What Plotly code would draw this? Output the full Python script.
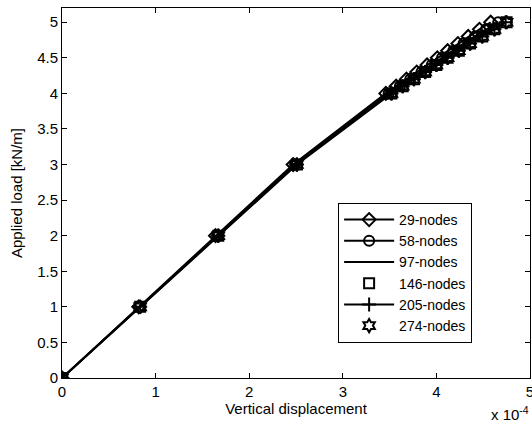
import plotly.graph_objects as go

load = [0, 1, 2, 3, 4, 4.1, 4.2, 4.3, 4.4, 4.5, 4.6, 4.7, 4.8, 4.9, 5.0]

disp_29 = [0, 0.82, 1.64, 2.47, 3.46, 3.57, 3.68, 3.79, 3.90, 4.01, 4.12, 4.23, 4.34, 4.46, 4.58]
disp_58 = [0, 0.83, 1.66, 2.49, 3.49, 3.61, 3.72, 3.84, 3.95, 4.06, 4.18, 4.29, 4.41, 4.53, 4.66]
disp_97 = [0, 0.83, 1.66, 2.50, 3.50, 3.62, 3.73, 3.85, 3.97, 4.08, 4.20, 4.32, 4.44, 4.56, 4.69]
disp_146 = [0, 0.835, 1.67, 2.51, 3.52, 3.64, 3.76, 3.88, 4.00, 4.12, 4.24, 4.36, 4.49, 4.62, 4.75]
disp_205 = [0, 0.835, 1.67, 2.51, 3.52, 3.64, 3.76, 3.88, 4.00, 4.12, 4.24, 4.36, 4.49, 4.62, 4.74]
disp_274 = [0, 0.835, 1.67, 2.51, 3.52, 3.64, 3.76, 3.88, 4.00, 4.12, 4.24, 4.36, 4.49, 4.62, 4.75]

names = ["29-nodes", "58-nodes", "97-nodes", "146-nodes", "205-nodes", "274-nodes"]
x_ticks = [0, 1, 2, 3, 4, 5]
y_ticks = [0, 0.5, 1, 1.5, 2, 2.5, 3, 3.5, 4, 4.5, 5]

series = [
    (disp_29, "lines+markers", "diamond-open"),
    (disp_58, "lines+markers", "circle-open"),
    (disp_97, "lines", None),
    (disp_146, "markers", "square-open"),
    (disp_205, "lines+markers", "cross-thin-open"),
    (disp_274, "markers", "hexagram-open"),
]

fig = go.Figure()
for (xs, mode, sym), nm in zip(series, names):
    kw = dict(x=xs, y=load, mode=mode, name=nm,
              line=dict(color="black", width=2))
    if sym is not None:
        kw["marker"] = dict(symbol=sym, size=10, color="black",
                            line=dict(color="black", width=2))
    fig.add_trace(go.Scatter(**kw))

FS = 15
axis_common = dict(showgrid=False, zeroline=False, showline=True, linecolor="black",
                   linewidth=1, mirror="ticks", ticks="inside", ticklen=5,
                   tickcolor="black", tickfont=dict(size=FS, color="black"),
                   automargin=False, ticklabeloverflow="allow")

fig.update_layout(
    width=532, height=426,
    margin=dict(l=62, r=2, t=8, b=48),
    paper_bgcolor="white", plot_bgcolor="white",
    font=dict(family="Liberation Sans, Arial, sans-serif", size=FS, color="black"),
    xaxis=dict(range=[0, 5], tickvals=x_ticks, ticktext=[str(v) for v in x_ticks],
               title=dict(text="Vertical displacement", standoff=0, font=dict(size=FS)),
               **axis_common),
    yaxis=dict(range=[0, 5.2], tickvals=y_ticks, ticktext=[f"{v:g}" for v in y_ticks],
               title=dict(text="Applied load [kN/m]", standoff=10, font=dict(size=FS)),
               **axis_common),
    legend=dict(x=0.59, y=0.473, xanchor="left", yanchor="top",
                bordercolor="black", borderwidth=1, bgcolor="white",
                font=dict(size=14), tracegroupgap=0, itemwidth=50),
    showlegend=True,
)

fig.add_annotation(text="x 10<sup>-4</sup>", xref="paper", yref="paper",
                   x=1.002, y=-0.095, xanchor="right", yanchor="middle",
                   showarrow=False, font=dict(size=FS))

fig.write_html(
    "out.html",
    config={"displayModeBar": False},
    post_script="document.body.style.margin='0px';"
                "document.documentElement.style.overflow='hidden';"
                "document.body.style.overflow='hidden';",
)
